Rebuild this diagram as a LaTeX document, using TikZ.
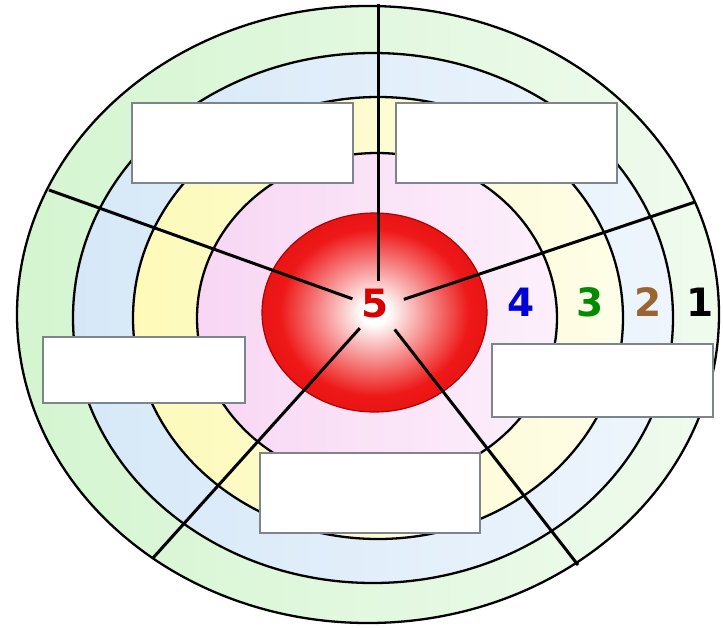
\documentclass[tikz,border=0pt]{standalone}
\usepackage{fontspec}
\newfontfamily\numfont{DejaVu Sans}
\definecolor{gL}{RGB}{212,245,208}
\definecolor{gR}{RGB}{240,251,238}
\definecolor{bL}{RGB}{214,232,248}
\definecolor{bR}{RGB}{238,245,252}
\definecolor{yL}{RGB}{253,250,185}
\definecolor{yR}{RGB}{254,253,232}
\definecolor{pL}{RGB}{248,214,244}
\definecolor{pR}{RGB}{252,240,251}
\definecolor{boxgray}{RGB}{125,132,140}
\definecolor{sphred}{RGB}{238,24,24}
\definecolor{sphedge}{RGB}{220,10,10}
\pgfdeclareradialshading{sphereshade}{\pgfpoint{0bp}{0bp}}{color(0bp)=(white); color(3bp)=(white); color(21bp)=(sphred); color(35bp)=(sphedge); color(50bp)=(sphedge)}
\begin{document}
\begin{tikzpicture}[x=1pt,y=-1pt,
  ringline/.style={draw=black, line width=2.3pt},
  spoke/.style={draw=black, line width=3pt},
  blank/.style={draw=boxgray, line width=1.8pt, fill=white, rectangle, inner sep=0pt},
  num/.style={font=\numfont\bfseries\fontsize{39}{39}\selectfont, inner sep=0pt}]
\useasboundingbox (0,0) rectangle (723,627);
% rings (outer to inner)
\path[left color=gL, right color=gR] (368,314.5) ellipse [x radius=351pt, y radius=308.5pt];
\path[left color=bL, right color=bR] (373,318) ellipse [x radius=300pt, y radius=265pt];
\path[left color=yL, right color=yR] (378,318) ellipse [x radius=245pt, y radius=221pt];
\path[left color=pL, right color=pR] (377,318) ellipse [x radius=180pt, y radius=165pt];
\draw[ringline] (368,314.5) ellipse [x radius=351pt, y radius=308.5pt];
\draw[ringline] (373,318) ellipse [x radius=300pt, y radius=265pt];
\draw[ringline] (378,318) ellipse [x radius=245pt, y radius=221pt];
\draw[ringline] (377,318) ellipse [x radius=180pt, y radius=165pt];
% sphere
\path[shading=sphereshade] (374.5,312.5) ellipse [x radius=112.5pt, y radius=99.5pt];
\draw[red!70!black, line width=1.2pt] (374.5,312.5) ellipse [x radius=112.5pt, y radius=99.5pt];
% spokes
\node[circle, minimum size=54pt, inner sep=0pt] (hub) at (378,308) {};
\coordinate (eU) at (378,4);
\coordinate (eUL) at (49,190);
\coordinate (eUR) at (695,202);
\coordinate (eLL) at (153,558);
\coordinate (eLR) at (578,565);
\draw[spoke] (hub) -- (eU);
\draw[spoke] (hub) -- (eUL);
\draw[spoke] (hub) -- (eUR);
\draw[spoke] (hub) -- (eLL);
\draw[spoke] (hub) -- (eLR);
% blank boxes
\node[blank, minimum width=221pt, minimum height=80pt] (bTL) at (242.5,143) {};
\node[blank, minimum width=221pt, minimum height=80pt] (bTR) at (506.5,143) {};
\node[blank, minimum width=202pt, minimum height=66pt] (bLf) at (144,370) {};
\node[blank, minimum width=221pt, minimum height=73pt] (bRt) at (602.5,380.5) {};
\node[blank, minimum width=220pt, minimum height=80pt] (bBt) at (370,493) {};
% numbers
\node[num, text=red!85!black] (n5) at (375,304) {5};
\node[num, text=blue!85!black] (n4) at (521,302.5) {4};
\node[num, text=green!55!black] (n3) at (590,302.5) {3};
\node[num, text=brown!80!black] (n2) at (648,302.5) {2};
\node[num, text=black] (n1) at (700,302.5) {1};
\end{tikzpicture}
\end{document}
